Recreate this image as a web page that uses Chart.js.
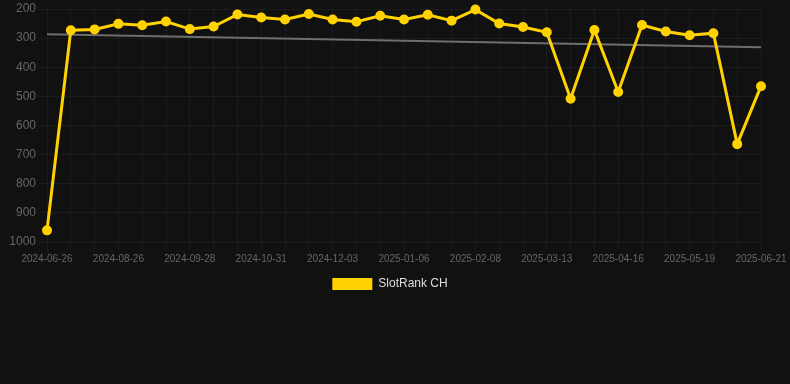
<!DOCTYPE html>
<html>
<head>
<meta charset="utf-8">
<script src="https://cdn.jsdelivr.net/npm/chart.js@4/dist/chart.umd.min.js"></script>
<style>
    html, body { margin: 0; padding: 0; background: #111111; }
    #wrap { width: 790px; height: 300px; }
</style>
</head>
<body>
<div id="wrap"><canvas id="rankChart"></canvas></div>
<script>
// --- data ---
const dates = [
    '2024-06-26', '2024-07-16', '2024-08-05', '2024-08-26', '2024-09-06', '2024-09-17',
    '2024-09-28', '2024-10-09', '2024-10-20', '2024-10-31', '2024-11-11', '2024-11-22',
    '2024-12-03', '2024-12-14', '2024-12-25', '2025-01-06', '2025-01-17', '2025-01-28',
    '2025-02-08', '2025-02-19', '2025-03-02', '2025-03-13', '2025-03-24', '2025-04-04',
    '2025-04-16', '2025-04-27', '2025-05-08', '2025-05-19', '2025-05-30', '2025-06-10',
    '2025-06-21'
];
const rankCH = [
    960, 273, 270, 251, 256, 243, 269, 260, 219, 229, 236, 217,
    236, 244, 223, 236, 220, 240, 202, 250, 262, 280, 508, 272,
    485, 255, 277, 290, 283, 664, 465
];
const trendStart = 287;
const trendEnd = 331;
const yTicks = [200, 300, 400, 500, 600, 700, 800, 900, 1000];

// trend line: only the two ends are known, the gap is spanned
const trend = dates.map((d, i) => i === 0 ? trendStart : (i === dates.length - 1 ? trendEnd : null));

Chart.defaults.font.family = "Arial, 'Liberation Sans', sans-serif";
Chart.defaults.color = '#666666';

const gridColor = 'rgba(255,255,255,0.045)';

const ctx = document.getElementById('rankChart').getContext('2d');
new Chart(ctx, {
    type: 'line',
    data: {
        labels: dates,
        datasets: [
            {
                label: 'SlotRank CH',
                data: rankCH,
                borderColor: '#ffd200',
                backgroundColor: '#ffd200',
                borderWidth: 3,
                pointRadius: 4,
                pointBorderWidth: 2,
                pointBackgroundColor: '#ffd200',
                pointBorderColor: '#ffd200',
                tension: 0,
                clip: false
            },
            {
                label: 'trend',
                data: trend,
                borderColor: '#6e6e6e',
                borderWidth: 2,
                pointRadius: 0,
                spanGaps: true,
                fill: false
            }
        ]
    },
    options: {
        responsive: true,
        maintainAspectRatio: false,
        animation: false,
        layout: { autoPadding: false, padding: { right: 10 } },
        plugins: {
            legend: {
                display: true,
                position: 'bottom',
                labels: {
                    boxWidth: 40,
                    boxHeight: 12,
                    color: '#dddddd',
                    font: { size: 12 },
                    filter: item => item.text !== 'trend',
                    generateLabels: chart => Chart.defaults.plugins.legend.labels.generateLabels(chart)
                        .map(item => Object.assign(item, { lineWidth: 0 }))
                }
            },
            tooltip: { enabled: false }
        },
        scales: {
            y: {
                reverse: true,
                min: 200,
                max: 1000,
                afterBuildTicks: axis => { axis.ticks = yTicks.map(v => ({ value: v })); },
                afterFit: axis => { axis.width = 47; },
                ticks: {
                    color: '#666666',
                    font: { size: 12, lineHeight: 1 },
                    callback: val => String(val)
                },
                grid: { color: gridColor },
                border: { display: false }
            },
            x: {
                afterFit: axis => { axis.paddingRight = 29; },
                ticks: {
                    autoSkip: false,
                    maxRotation: 0,
                    color: '#666666',
                    font: { size: 10 },
                    callback: function (val, i) { return i % 3 === 0 ? this.getLabelForValue(val) : ''; }
                },
                grid: { color: gridColor },
                border: { display: false }
            }
        }
    }
});
</script>
</body>
</html>
